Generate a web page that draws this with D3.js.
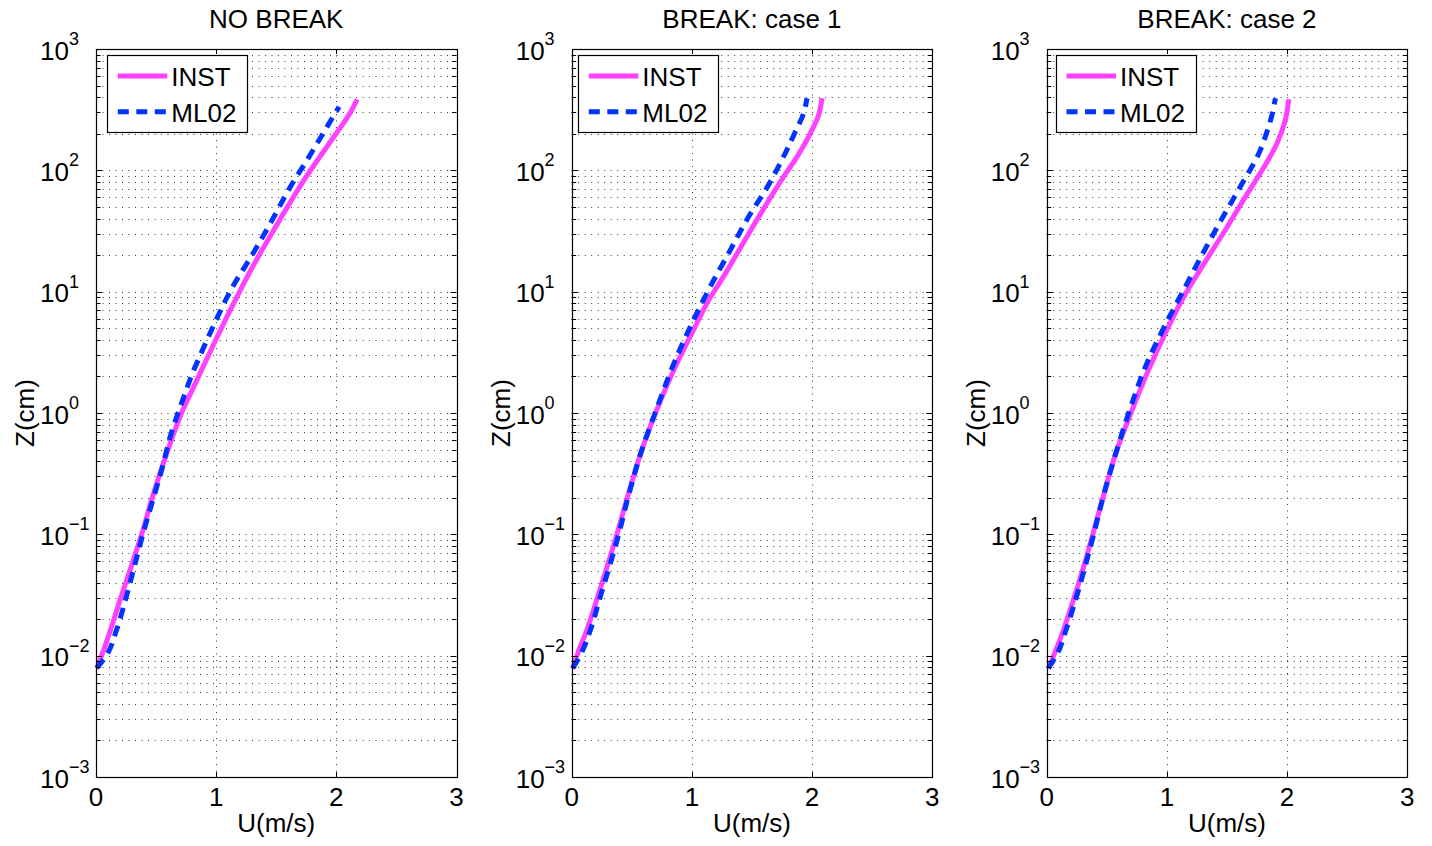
<!DOCTYPE html>
<html><head><meta charset="utf-8">
<script src="https://cdn.jsdelivr.net/npm/d3@7"></script>
<style>
body{margin:0;background:#fff}
svg{display:block}
text{font-family:"Liberation Sans",Arial,Helvetica,sans-serif;fill:#000}
</style>
</head><body>
<svg id="chart" width="1432" height="846"></svg>
<script>
// ---------------- data ----------------
const panelTitles = ["NO BREAK", "BREAK: case 1", "BREAK: case 2"];
const seriesNames = ["INST", "ML02"];
const xTicks = [0, 1, 2, 3];
const yTickExponents = [-3, -2, -1, 0, 1, 2, 3];
const xLabel = "U(m/s)";
const yLabel = "Z(cm)";

// panel 1 (NO BREAK)  z in cm, U in m/s
const p1InstZ = [0.0079, 0.0093, 0.0100, 0.0174, 0.0288, 0.048, 0.100, 0.204, 0.50, 1.0, 1.58, 2.51, 3.98, 6.31, 10.0, 15.8, 28.2, 53.7, 89.1, 129, 202, 295, 385];
const p1InstU = [0.01, 0.033, 0.046, 0.13, 0.20, 0.275, 0.38, 0.47, 0.60, 0.712, 0.805, 0.90, 0.995, 1.093, 1.195, 1.30, 1.445, 1.612, 1.751, 1.862, 2.0, 2.113, 2.173];
const p1MlZ = [0.0079, 0.0100, 0.0162, 0.0288, 0.048, 0.100, 0.339, 0.70, 1.02, 1.45, 2.06, 2.91, 4.13, 5.85, 8.83, 12.0, 17.7, 34.3, 78.2, 125.6, 236, 334];
const p1MlU = [0.005, 0.085, 0.17, 0.245, 0.305, 0.39, 0.546, 0.63, 0.686, 0.741, 0.797, 0.862, 0.93, 1.0, 1.087, 1.16, 1.266, 1.435, 1.635, 1.765, 1.931, 2.023];

// panel 2 (BREAK: case 1)
const p2InstZ = [0.0078, 0.0099, 0.0162, 0.0288, 0.048, 0.099, 0.204, 0.5, 1.06, 2.56, 4.82, 8.0, 13.3, 28.4, 53.5, 88.5, 129, 202, 286, 393];
const p2InstU = [0.008, 0.042, 0.125, 0.208, 0.278, 0.375, 0.465, 0.585, 0.708, 0.875, 1.013, 1.125, 1.263, 1.458, 1.625, 1.763, 1.875, 1.986, 2.055, 2.083];
const p2MlZ = [0.0079, 0.0100, 0.0162, 0.0288, 0.099, 0.204, 0.5, 1.0, 2.71, 5.47, 11.0, 20.7, 41.4, 75.7, 147, 208, 295, 393];
const p2MlU = [0.008, 0.07, 0.155, 0.23, 0.39, 0.47, 0.585, 0.694, 0.861, 1.0, 1.153, 1.305, 1.472, 1.638, 1.79, 1.861, 1.93, 1.958];

// panel 3 (BREAK: case 2)
const p3InstZ = [0.0078, 0.0099, 0.0162, 0.0288, 0.048, 0.099, 0.204, 0.5, 0.96, 2.26, 4.53, 8.51, 16.0, 32.2, 60.5, 100, 167, 260, 385];
const p3InstU = [0.014, 0.056, 0.139, 0.222, 0.292, 0.383, 0.47, 0.585, 0.694, 0.847, 0.986, 1.125, 1.292, 1.486, 1.653, 1.792, 1.917, 1.986, 2.014];
const p3MlZ = [0.0079, 0.0100, 0.0162, 0.0288, 0.099, 0.204, 0.5, 1.13, 2.56, 5.31, 10.3, 20.0, 37.7, 73.3, 147, 208, 286, 393];
const p3MlU = [0.014, 0.08, 0.16, 0.24, 0.39, 0.47, 0.585, 0.70, 0.833, 0.986, 1.139, 1.292, 1.444, 1.611, 1.778, 1.833, 1.875, 1.903];

const panelData = [
  [[p1InstZ, p1InstU], [p1MlZ, p1MlU]],
  [[p2InstZ, p2InstU], [p2MlZ, p2MlU]],
  [[p3InstZ, p3InstU], [p3MlZ, p3MlU]]
];

// ---------------- layout / style ----------------
const panelLeft = [96, 571.7, 1046.7];
const legendOffset = [11.3, 6.6, 9.3];
const plotW = 360.5;
const plotTop = 49, plotBottom = 777;
const FONT = 26, SUP = 18;
const colors = ["#ff40ff", "#0033ff"];
const dashes = [null, "11,7.5"];
const lineW = 5;

const svg = d3.select("#chart");

function sup(textSel, base, exp) {
  textSel.append("tspan").text(base);
  textSel.append("tspan").attr("font-size", SUP).attr("dy", -14.5).text(exp);
}

panelTitles.forEach((title, pi) => {
  const x0 = panelLeft[pi], x1 = x0 + plotW;
  const x = d3.scaleLinear().domain([0, 3]).range([x0, x1]);
  const y = d3.scaleLog().domain([1e-3, 1e3]).range([plotBottom, plotTop]);
  const g = svg.append("g");

  // log grid values
  const gridVals = [];
  for (let k = -3; k <= 2; k++) for (let m = 1; m <= 9; m++) gridVals.push(m * Math.pow(10, k));
  const innerVals = gridVals.filter(v => v > 1e-3 * 1.0001);

  // dotted grid
  const grid = g.append("g").attr("stroke", "#3a3a3a").attr("stroke-width", 1)
    .attr("stroke-dasharray", "1,5.5").attr("fill", "none");
  innerVals.forEach(v => {
    grid.append("line").attr("x1", x0).attr("x2", x1)
      .attr("y1", Math.round(y(v)) + 0.5).attr("y2", Math.round(y(v)) + 0.5);
  });
  xTicks.filter(t => t > 0 && t < 3).forEach(t => {
    grid.append("line").attr("x1", Math.round(x(t)) + 0.5).attr("x2", Math.round(x(t)) + 0.5)
      .attr("y1", plotTop).attr("y2", plotBottom);
  });

  // curves
  const line = d3.line().x(d => x(d[1])).y(d => y(d[0])).curve(d3.curveMonotoneY);
  panelData[pi].forEach((s, si) => {
    const pts = s[0].map((z, i) => [z, s[1][i]]);
    g.append("path").datum(pts).attr("d", line)
      .attr("fill", "none").attr("stroke", colors[si]).attr("stroke-width", lineW)
      .attr("stroke-dasharray", dashes[si]).attr("stroke-linejoin", "round");
  });

  // ticks (inside, all four sides)
  const tk = g.append("g").attr("stroke", "#000").attr("stroke-width", 1);
  innerVals.forEach(v => {
    const yy = Math.round(y(v)) + 0.5;
    const major = Math.abs(Math.log10(v) - Math.round(Math.log10(v))) < 1e-9;
    const len = major ? 6 : 4.5;
    tk.append("line").attr("x1", x0).attr("x2", x0 + len).attr("y1", yy).attr("y2", yy);
    tk.append("line").attr("x1", x1 - len).attr("x2", x1).attr("y1", yy).attr("y2", yy);
  });
  xTicks.filter(t => t > 0 && t < 3).forEach(t => {
    const xx = Math.round(x(t)) + 0.5;
    tk.append("line").attr("x1", xx).attr("x2", xx).attr("y1", plotTop).attr("y2", plotTop + 5);
    tk.append("line").attr("x1", xx).attr("x2", xx).attr("y1", plotBottom - 5).attr("y2", plotBottom);
  });

  // box
  g.append("rect").attr("x", Math.round(x0) + 0.5).attr("y", plotTop + 0.5)
    .attr("width", Math.round(x1) - Math.round(x0)).attr("height", plotBottom - plotTop)
    .attr("fill", "none").attr("stroke", "#000").attr("stroke-width", 1.2);

  // x tick labels
  xTicks.forEach(t => {
    g.append("text").attr("x", x(t)).attr("y", plotBottom + 29)
      .attr("text-anchor", "middle").attr("font-size", FONT).text(t);
  });
  // y tick labels
  yTickExponents.forEach(e => {
    const t = g.append("text").attr("x", x0 - 56).attr("y", y(Math.pow(10, e)) + 10.5)
      .attr("font-size", FONT);
    sup(t, "10", e < 0 ? "\u2212" + Math.abs(e) : String(e));
  });

  // title and axis labels
  g.append("text").attr("x", (x0 + x1) / 2).attr("y", 28).attr("text-anchor", "middle")
    .attr("font-size", FONT).text(title);
  g.append("text").attr("x", (x0 + x1) / 2).attr("y", 832).attr("text-anchor", "middle")
    .attr("font-size", FONT).text(xLabel);
  g.append("text").attr("transform", `translate(${x0 - 62},${(plotTop + plotBottom) / 2}) rotate(-90)`)
    .attr("text-anchor", "middle").attr("font-size", FONT).text(yLabel);

  // legend
  const lx = x0 + legendOffset[pi], ly = 55;
  const lg = g.append("g");
  lg.append("rect").attr("x", Math.round(lx) + 0.5).attr("y", ly + 0.5).attr("width", 140).attr("height", 77)
    .attr("fill", "#fff").attr("stroke", "#000").attr("stroke-width", 1.2);
  seriesNames.forEach((name, si) => {
    const yy = ly + 21 + si * 35.7;
    lg.append("line").attr("x1", lx + 10.5).attr("x2", lx + 60).attr("y1", yy).attr("y2", yy)
      .attr("stroke", colors[si]).attr("stroke-width", lineW).attr("stroke-dasharray", dashes[si]);
    lg.append("text").attr("x", lx + 64).attr("y", yy + 10).attr("font-size", FONT).text(name);
  });
});
</script>
</body></html>
